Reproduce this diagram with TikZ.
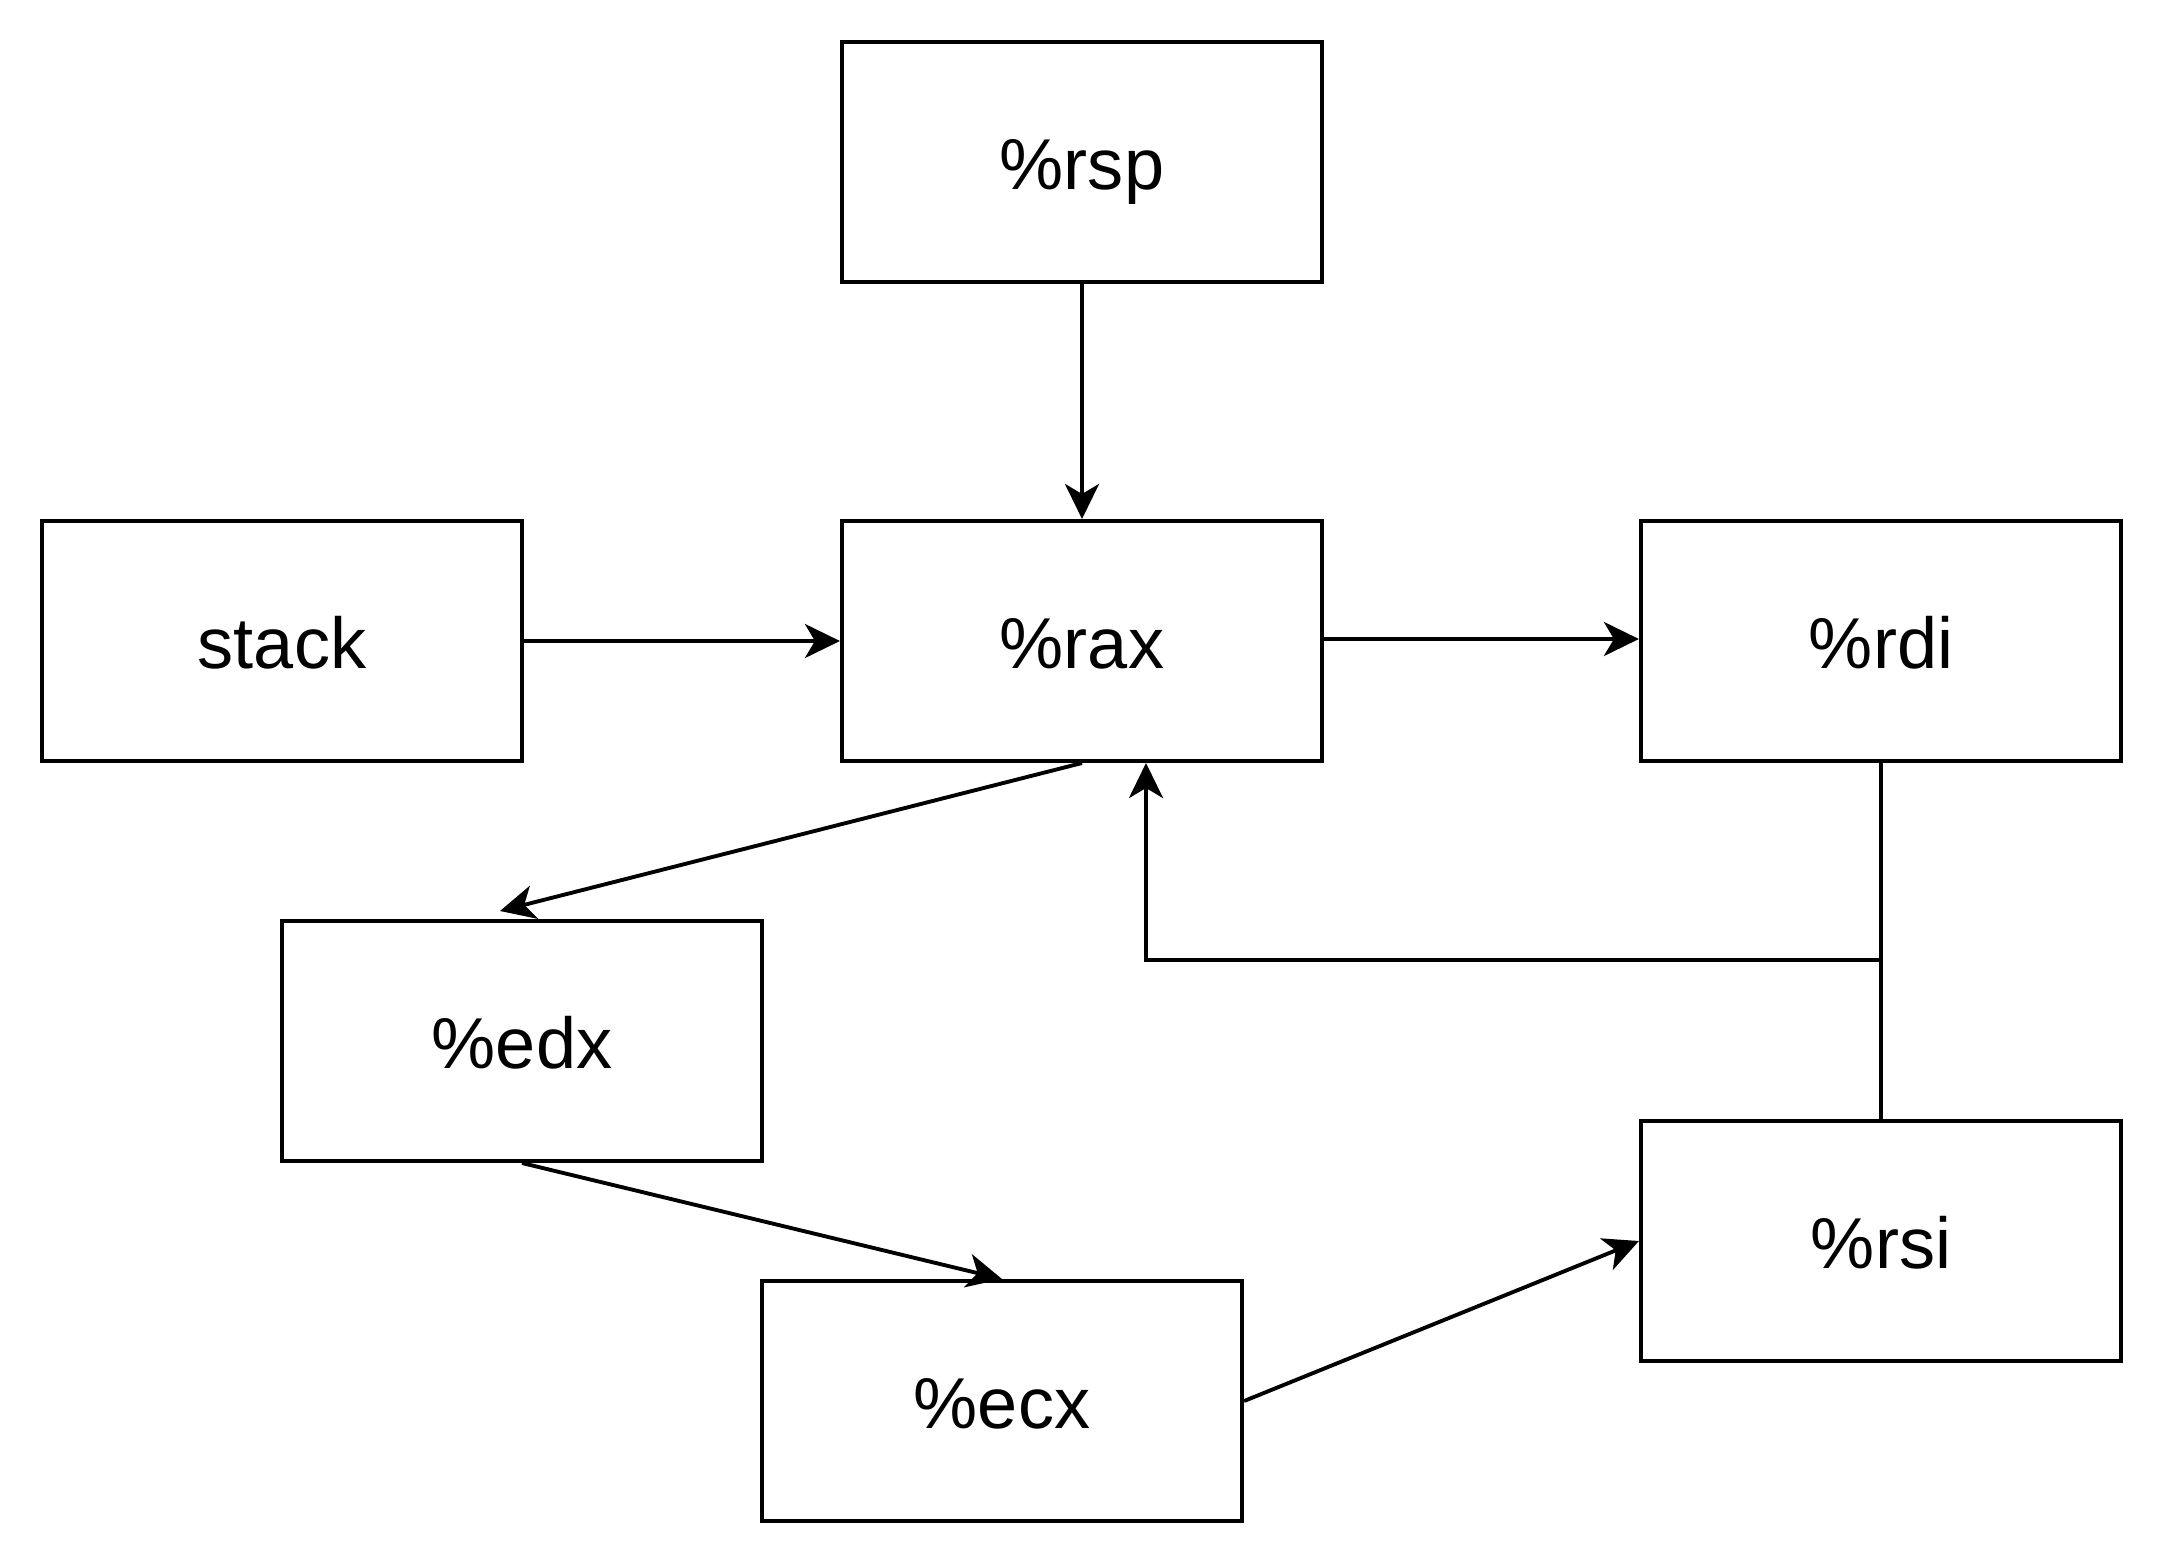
\documentclass[tikz,border=0pt]{standalone}
\usepackage{fontspec}
\setmainfont{Liberation Sans}
\usetikzlibrary{arrows.meta,calc}
\begin{document}
\begin{tikzpicture}[x=0.01cm,y=-0.01cm,
  reg/.style={draw=black,line width=1.1pt,fill=white,minimum width=4.8cm,minimum height=2.4cm,inner sep=0pt,
    font=\fontsize{20.5pt}{24pt}\selectfont,text height=0.54cm,text depth=0pt},
  conn/.style={line width=1.1pt,-{Stealth[length=0.35cm,width=0.34cm,inset=0.1cm]}},
  plain/.style={line width=1.1pt}]
\useasboundingbox (0,0) rectangle (2164,1564);
\node[reg] (rsp) at (1082,162) {\%rsp};
\node[reg] (stack) at (282,641) {stack};
\node[reg] (rax) at (1082,641) {\%rax};
\node[reg] (rdi) at (1881,641) {\%rdi};
\node[reg] (edx) at (522,1041) {\%edx};
\node[reg] (ecx) at (1002,1401) {\%ecx};
\node[reg] (rsi) at (1881,1241) {\%rsi};
\coordinate (j) at ($(rsi.north)+(0,-159)$);
\draw[conn] (rsp.south) -- (rax.north);
\draw[conn] (stack.east) -- (rax.west);
\draw[conn] ($(rax.east)+(0,-2)$) -- ($(rdi.west)+(0,-2)$);
\draw[conn] (rax.south) -- ($(edx.north)+(-22,-8)$);
\draw[conn] (edx.south) -- (ecx.north);
\draw[conn] (ecx.east) -- (rsi.west);
\draw[plain] (rdi.south) -- (j);
\draw[conn] (rsi.north) -- (j) -| ($(rax.south)+(64,0)$);
\end{tikzpicture}
\end{document}
